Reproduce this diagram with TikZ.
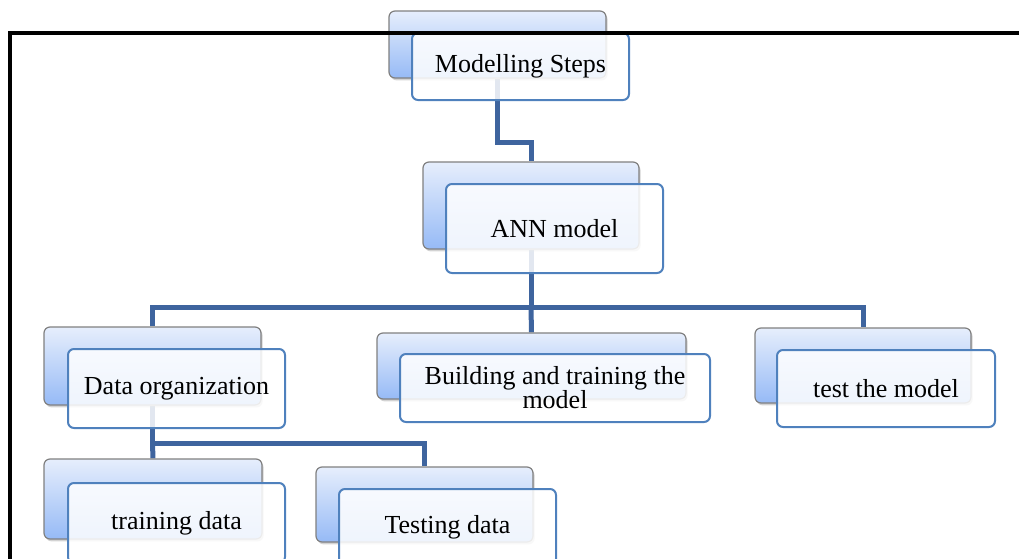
\documentclass[tikz,border=0pt]{standalone}
\usepackage{fontspec}
\setmainfont{Liberation Serif}
\usetikzlibrary{shadows,backgrounds}
\definecolor{linkblue}{RGB}{62,100,158}
\definecolor{frontblue}{RGB}{79,129,189}
\definecolor{backtop}{RGB}{230,238,252}
\definecolor{backbot}{RGB}{150,186,246}
\tikzset{
  backbox/.style={draw=gray, line width=0.6pt, rounded corners=3pt,
    top color=backtop, bottom color=backbot, inner sep=0pt,
    drop shadow={shadow xshift=0.8pt, shadow yshift=-1.2pt, opacity=0.35}},
  frontbox/.style={draw=frontblue, line width=1pt, rounded corners=3pt,
    fill=white, fill opacity=0.85, text opacity=1, inner sep=0pt,
    align=center, font=\fontsize{13}{12}\selectfont},
  link/.style={draw=linkblue, line width=2.5pt},
  frame/.style={draw=black, line width=2pt}
}
\begin{document}
\begin{tikzpicture}[x=0.5pt,y=-0.5pt]
\useasboundingbox (0,0) rectangle (1019,558);
\clip (0,0) rectangle (1019,558);
% top
\node[backbox, minimum width=108.5pt, minimum height=33.5pt] (msb) at (497.5,44.5) {};
\node[frontbox, minimum width=108.5pt, minimum height=33.5pt] (ms) at (520.5,66.5) {Modelling Steps};
\node[backbox, minimum width=108pt, minimum height=43.5pt] (annb) at (531,205.5) {};
\node[frontbox, minimum width=108.5pt, minimum height=44.5pt] (ann) at (554.5,228.5) {ANN model};
% second row
\node[backbox, minimum width=108.5pt, minimum height=39pt] (dob) at (152.5,366) {};
\node[frontbox, minimum width=108.5pt, minimum height=39.5pt] (do) at (176.5,388.5) {Data organization};
\node[backbox, minimum width=154.5pt, minimum height=33pt] (bbb) at (531.5,366) {};
\node[frontbox, minimum width=155pt, minimum height=34pt] (bb) at (555,388) {Building and training the\\model};
\node[backbox, minimum width=108pt, minimum height=37.5pt] (tmb) at (863,365.5) {};
\node[frontbox, minimum width=109pt, minimum height=38.5pt] (tm) at (886,388.5) {test the model};
% third row
\node[backbox, minimum width=109pt, minimum height=40pt] (tdb) at (153,499) {};
\node[frontbox, minimum width=108.5pt, minimum height=40pt] (td) at (176.5,523) {training data};
\node[backbox, minimum width=108.5pt, minimum height=37.5pt] (tsb) at (424.5,504.5) {};
\node[frontbox, minimum width=108.5pt, minimum height=38pt] (ts) at (447.5,527) {Testing data};
% connectors
\begin{scope}[on background layer]
\draw[link] (msb.south) -- ++(0,64) -| (annb.north);
\draw[link] (annb.south) -- ++(0,58) coordinate (bus1);
\draw[link] (dob.north) |- (bus1) -| (tmb.north);
\draw[link] (bus1) -- (bbb.north);
\draw[link] (dob.south) -- ++(0,38) coordinate (bus2) -| (tsb.north);
\draw[link] (bus2) -- (tdb.north);
\end{scope}
% frame
\draw[frame] (10,600) -- (10,33) -- (1040,33);
\end{tikzpicture}
\end{document}
